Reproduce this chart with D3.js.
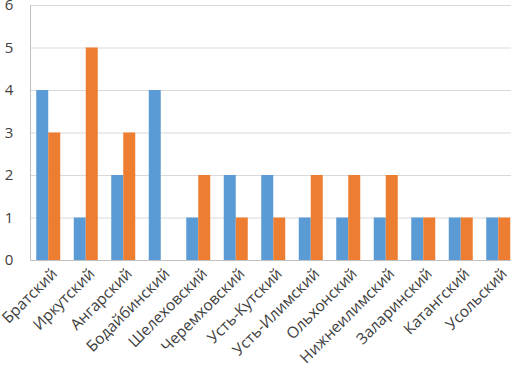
<!DOCTYPE html>
<html><head><meta charset="utf-8">
<script src="https://cdn.jsdelivr.net/npm/d3@7"></script>
<style>body{margin:0;background:#fff;overflow:hidden}svg{display:block}</style>
</head><body>
<svg id="c" width="511" height="365"></svg>
<script>
const categories = ["Братский","Иркутский","Ангарский","Бодайбинский","Шелеховский","Черемховский","Усть-Кутский","Усть-Илимский","Ольхонский","Нижнеилимский","Заларинский","Катангский","Усольский"];
const series1 = [4,1,2,4,1,2,2,1,1,1,1,1,1];
const series2 = [3,5,3,0,2,1,1,2,2,2,1,1,1];
const yTicks = [0,1,2,3,4,5,6];
const colors = ["#5B9BD5","#ED7D31"];

const svg = d3.select("#c");
const font = "'Open Sans', 'Liberation Sans', sans-serif";
const x = d3.scaleBand().domain(categories).range([29.5, 517]).paddingInner(0).paddingOuter(0);
const y = d3.scaleLinear().domain([0,6]).range([260, 5]);
const barW = 12;

// gridlines
svg.append("g").selectAll("line").data(yTicks.filter(d=>d>0)).join("line")
  .attr("x1", 30).attr("x2", 511)
  .attr("y1", d=>y(d)+0.5).attr("y2", d=>y(d)+0.5)
  .attr("stroke", "#d9d9d9").attr("stroke-width", 1);

// bars
const data = categories.map((c,i)=>({c, v:[series1[i], series2[i]]}));
const g = svg.append("g");
[0,1].forEach(s=>{
  g.selectAll(".b"+s).data(data).join("rect")
    .attr("x", d=> x(d.c) + x.bandwidth()/2 - barW + s*barW)
    .attr("width", barW)
    .attr("y", d=> y(d.v[s]))
    .attr("height", d=> y(0)-y(d.v[s]))
    .attr("fill", colors[s]);
});

// axes lines
svg.append("line").attr("x1",30.5).attr("x2",30.5).attr("y1",5).attr("y2",260).attr("stroke","#bfbfbf");
svg.append("line").attr("x1",30).attr("x2",511).attr("y1",260.5).attr("y2",260.5).attr("stroke","#bfbfbf");

// y tick labels
svg.append("g").selectAll("text").data(yTicks).join("text")
  .attr("x", 9).attr("y", d=>y(d)).attr("dy","0.36em")
  .attr("text-anchor","middle").attr("font-family",font).attr("font-size",15).attr("fill","#404040")
  .text(d=>d);

// x labels
svg.append("g").selectAll("text").data(categories).join("text")
  .attr("text-anchor","end").attr("font-family",font).attr("font-size",15.5).attr("fill","#404040")
  .attr("transform", d=>`translate(${x(d)+x.bandwidth()/2+6},${271}) rotate(-45)`)
  .attr("dy","0.35em")
  .text(d=>d);
</script>
</body></html>
